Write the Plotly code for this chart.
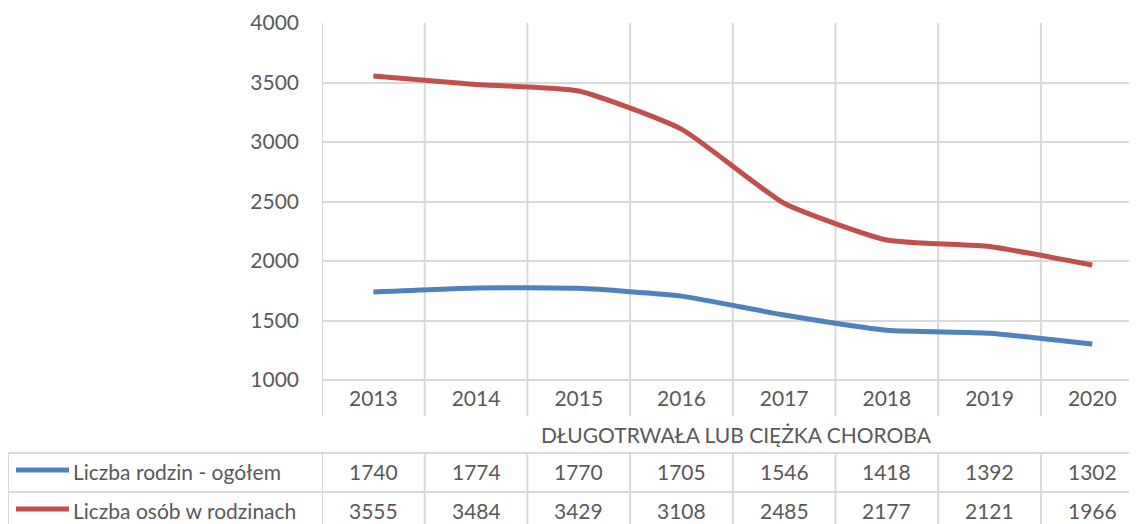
import plotly.graph_objects as go

years = ["2013", "2014", "2015", "2016", "2017", "2018", "2019", "2020"]
rodziny = [1740, 1774, 1770, 1705, 1546, 1418, 1392, 1302]
osoby = [3555, 3484, 3429, 3108, 2485, 2177, 2121, 1966]
series_names = ["Liczba rodzin - ogółem", "Liczba osób w rodzinach"]
category_title = "DŁUGOTRWAŁA LUB CIĘŻKA CHOROBA"
colors = ["#4F81BD", "#C0504D"]

OFF = 8  # page body margin
W, H = 1137 - OFF, 524 - OFF
PL, PT, PB = 322 - OFF, 23 - OFF, 380 - OFF  # plot area in figure px
pw = W - PL
ph = PB - PT
cat_px = 102.7

def py(p):  # window pixel y -> paper y
    return (PB - (p - OFF)) / ph

def px(p):  # window pixel x -> paper x
    return ((p - OFF) - PL) / pw

GRID = "#D9D9D9"
TXT = "#595959"
FONT = "Lato"
FS = 21

fig = go.Figure()
for name, vals, c in zip(series_names, [rodziny, osoby], colors):
    fig.add_trace(go.Scatter(x=list(range(len(years))), y=vals, name=name, mode="lines",
                             line=dict(color=c, width=5, shape="spline", smoothing=0.5),
                             showlegend=False, hoverinfo="x+y"))

n = len(years)
shapes = []
for i in range(n + 1):
    shapes.append(dict(type="line", xref="x", yref="paper", x0=i - 0.5, x1=i - 0.5,
                       y0=py(416), y1=1, line=dict(color=GRID, width=2), layer="below"))
    shapes.append(dict(type="line", xref="x", yref="paper", x0=i - 0.5, x1=i - 0.5,
                       y0=py(453), y1=py(530), line=dict(color=GRID, width=2), layer="below"))
shapes.append(dict(type="line", xref="paper", yref="paper", x0=px(8), x1=px(8),
                   y0=py(453), y1=py(530), line=dict(color=GRID, width=2)))
for yy in [453, 492]:
    shapes.append(dict(type="line", xref="paper", yref="paper", x0=px(8), x1=1.02,
                       y0=py(yy), y1=py(yy), line=dict(color=GRID, width=2)))
shapes.append(dict(type="line", xref="paper", yref="paper", x0=0, x1=1.02,
                   y0=0, y1=0, line=dict(color=GRID, width=2)))

annotations = []
annotations.append(dict(text=category_title, xref="x", yref="paper", x=(n - 1) / 2 + 0.04, y=py(435),
                        showarrow=False, font=dict(family=FONT, size=FS, color=TXT),
                        xanchor="center", yanchor="middle"))
row_y = [471, 510]
for name, vals, c, ry in zip(series_names, [rodziny, osoby], colors, row_y):
    shapes.append(dict(type="line", xref="paper", yref="paper", x0=px(16), x1=px(69),
                       y0=py(ry - 1), y1=py(ry - 1), line=dict(color=c, width=5)))
    annotations.append(dict(text=name, xref="paper", yref="paper", x=px(71), y=py(ry),
                            showarrow=False, font=dict(family=FONT, size=FS, color=TXT),
                            xanchor="left", yanchor="middle"))
    for i, v in enumerate(vals):
        annotations.append(dict(text=str(v), xref="x", yref="paper", x=i, y=py(ry),
                                showarrow=False, font=dict(family=FONT, size=FS, color=TXT),
                                xanchor="center", yanchor="middle"))

fig.update_layout(
    width=W, height=H,
    margin=dict(l=PL, r=0, t=PT, b=H - PB),
    plot_bgcolor="white", paper_bgcolor="white",
    shapes=shapes, annotations=annotations,
    xaxis=dict(range=[-0.5, -0.5 + pw / cat_px], tickmode="array",
               tickvals=list(range(n)), ticktext=years, showgrid=False, zeroline=False,
               showline=False, ticks="", tickfont=dict(family=FONT, size=FS, color=TXT),
               ticklabelstandoff=4, fixedrange=True),
    yaxis=dict(range=[1000, 4000], dtick=500, tick0=1000, showgrid=True, gridcolor=GRID,
               gridwidth=2, zeroline=False, showline=False, ticks="",
               tickfont=dict(family=FONT, size=FS, color=TXT), ticklabelstandoff=22,
               fixedrange=True),
)

fig.write_html("out.html")
